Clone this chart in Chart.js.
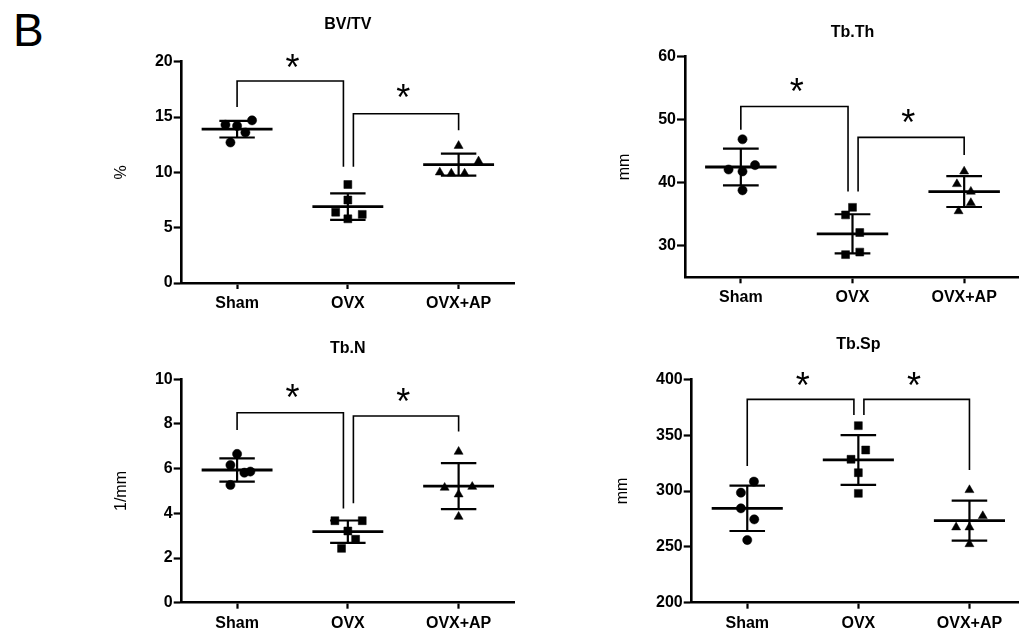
<!DOCTYPE html>
<html><head><meta charset="utf-8">
<script src="https://cdn.jsdelivr.net/npm/chart.js@4/dist/chart.umd.min.js"></script>
<style>
html,body{margin:0;padding:0;background:#fff;overflow:hidden;width:1019px;height:632px;position:relative;}
canvas{position:absolute;left:0;top:0;}
#B{position:absolute;left:13px;top:4px;font:46px 'Liberation Sans',Arial,sans-serif;color:#000;line-height:53px;}
</style></head><body>
<div id="B">B</div>
<canvas id="c1" width="1100" height="700"></canvas>
<canvas id="c2" width="1100" height="700"></canvas>
<canvas id="c3" width="1100" height="700"></canvas>
<canvas id="c4" width="1100" height="700"></canvas>
<script>
const groups = ['Sham', 'OVX', 'OVX+AP'];

// BV/TV (%)
const bvtvSham = [14.3, 14.2, 14.7, 13.6, 12.7];
const bvtvOvx = [8.9, 7.5, 6.4, 5.8, 6.2];
const bvtvOvxAp = [12.4, 11.0, 10.0, 9.9, 9.9];
const bvtvShamX = [-0.105, 0, 0.135, 0.075, -0.06];
const bvtvOvxX = [0, 0, -0.11, 0, 0.13];
const bvtvOvxApX = [0, 0.18, -0.17, -0.066, 0.054];
const bvtvMean = [13.9, 6.9, 10.7];
const bvtvSd = [0.75, 1.2, 1.0];
const bvtvTicks = [0, 5, 10, 15, 20];
const bvtvBrackets = [[0, 1, 18.25, 15.9, 10.5], [1, 2, 15.3, 10.5, 13.8]];
const bvtvStars = [19.7, 17.0];

// Tb.Th (mm)
const tbthSham = [46.9, 42.1, 41.8, 42.8, 38.8];
const tbthOvx = [36.1, 34.9, 32.1, 28.6, 29.0];
const tbthOvxAp = [41.8, 39.8, 38.6, 36.8, 35.5];
const tbthShamX = [0.015, -0.11, 0.015, 0.127, 0.015];
const tbthOvxX = [0, -0.062, 0.065, -0.062, 0.065];
const tbthOvxApX = [0, -0.065, 0.06, 0.06, -0.05];
const tbthMean = [42.5, 31.9, 38.6];
const tbthSd = [2.9, 3.1, 2.45];
const tbthTicks = [30, 40, 50, 60];
const tbthBrackets = [[0, 1, 52.1, 48.4, 38.6], [1, 2, 47.2, 38.6, 44.4]];
const tbthStars = [55.0, 50.1];

// Tb.N (1/mm)
const tbnSham = [6.66, 6.16, 5.82, 5.87, 5.27];
const tbnOvx = [3.67, 3.67, 3.21, 2.84, 2.43];
const tbnOvxAp = [6.76, 5.15, 5.19, 4.85, 3.85];
const tbnShamX = [0, -0.06, 0.066, 0.12, -0.06];
const tbnOvxX = [-0.117, 0.13, 0, 0.07, -0.057];
const tbnOvxApX = [0, -0.126, 0.123, 0, 0];
const tbnMean = [5.94, 3.18, 5.22];
const tbnSd = [0.52, 0.5, 1.03];
const tbnTicks = [0, 2, 4, 6, 8, 10];
const tbnBrackets = [[0, 1, 8.5, 7.73, 4.22], [1, 2, 8.36, 4.45, 7.66]];
const tbnStars = [9.34, 9.15];

// Tb.Sp (mm)
const tbspSham = [308.4, 298.5, 284.5, 274.6, 256.1];
const tbspOvx = [358.5, 336.7, 328.4, 316.4, 297.9];
const tbspOvxAp = [300.9, 277.6, 267.5, 267.5, 252.5];
const tbspShamX = [0.06, -0.057, -0.057, 0.063, 0];
const tbspOvxX = [0, 0.066, -0.066, 0, 0];
const tbspOvxApX = [0, 0.12, -0.12, 0, 0];
const tbspMean = [284.5, 327.8, 273.4];
const tbspSd = [20.3, 22.3, 17.9];
const tbspTicks = [200, 250, 300, 350, 400];
const tbspBrackets = [[0, 1, 382, 322.4, 368], [1, 2, 382, 368, 318.8]];
const tbspStars = [397, 397];

const FONT = "'Liberation Sans', Arial, sans-serif";
const pointStyles = ['circle', 'rect', 'triangle'];
const pointRadii = [4.6, 5.6, 5.2];

const panels = [
  {canvas: 'c1', title: 'BV/TV', yLabel: '%', left: 181.7, right: 514, top: 61.7, bottom: 283, titleY: 24.5, yLabelX: 122,
   values: [bvtvSham, bvtvOvx, bvtvOvxAp], xs: [bvtvShamX, bvtvOvxX, bvtvOvxApX], mean: bvtvMean, sd: bvtvSd,
   ticks: bvtvTicks, min: 0, max: 20, brackets: bvtvBrackets, stars: bvtvStars},
  {canvas: 'c2', title: 'Tb.Th', yLabel: 'mm', left: 685, right: 1020, top: 56.7, bottom: 277.3, titleY: 33, yLabelX: 625,
   values: [tbthSham, tbthOvx, tbthOvxAp], xs: [tbthShamX, tbthOvxX, tbthOvxApX], mean: tbthMean, sd: tbthSd,
   ticks: tbthTicks, min: 25, max: 60, brackets: tbthBrackets, stars: tbthStars},
  {canvas: 'c3', title: 'Tb.N', yLabel: '1/mm', left: 181.7, right: 514, top: 379.3, bottom: 602.7, titleY: 349, yLabelX: 122,
   values: [tbnSham, tbnOvx, tbnOvxAp], xs: [tbnShamX, tbnOvxX, tbnOvxApX], mean: tbnMean, sd: tbnSd,
   ticks: tbnTicks, min: 0, max: 10, brackets: tbnBrackets, stars: tbnStars},
  {canvas: 'c4', title: 'Tb.Sp', yLabel: 'mm', left: 691.7, right: 1025, top: 379.3, bottom: 602.7, titleY: 345, yLabelX: 622.5,
   values: [tbspSham, tbspOvx, tbspOvxAp], xs: [tbspShamX, tbspOvxX, tbspOvxApX], mean: tbspMean, sd: tbspSd,
   ticks: tbspTicks, min: 200, max: 400, brackets: tbspBrackets, stars: tbspStars}
];

function line(ctx, x1, y1, x2, y2, w) {
  ctx.lineWidth = w;
  ctx.beginPath(); ctx.moveTo(x1, y1); ctx.lineTo(x2, y2); ctx.stroke();
}

function makePanel(p) {
  const W = 1100, H = 700, yW = 50, xH = 40;
  const STAR = 36;
  const annot = {
    id: 'annot_' + p.canvas,
    afterDatasetsDraw(chart) {
      const ctx = chart.ctx, xs = chart.scales.x, ys = chart.scales.y, ca = chart.chartArea;
      const X = v => xs.getPixelForValue(v), Y = v => ys.getPixelForValue(v);
      ctx.save();
      ctx.strokeStyle = '#000'; ctx.fillStyle = '#000'; ctx.lineCap = 'butt';
      for (let g = 0; g < 3; g++) {
        const m = p.mean[g], s = p.sd[g];
        line(ctx, X(g - 0.32), Y(m), X(g + 0.32), Y(m), 2.8);
        line(ctx, X(g - 0.16), Y(m + s), X(g + 0.16), Y(m + s), 2.2);
        line(ctx, X(g - 0.16), Y(m - s), X(g + 0.16), Y(m - s), 2.2);
        line(ctx, X(g), Y(m - s), X(g), Y(m + s), 2.2);
      }
      ctx.lineJoin = 'miter';
      p.brackets.forEach((b, i) => {
        const a = b[0], c = b[1];
        const xa = X(a === 1 ? a + 0.05 : a), xc = X(c === 1 ? c - 0.04 : c);
        ctx.lineWidth = 1.6;
        ctx.beginPath();
        ctx.moveTo(xa, Y(b[3])); ctx.lineTo(xa, Y(b[2])); ctx.lineTo(xc, Y(b[2])); ctx.lineTo(xc, Y(b[4]));
        ctx.stroke();
        ctx.font = STAR + 'px ' + FONT;
        ctx.textAlign = 'center'; ctx.textBaseline = 'alphabetic';
        ctx.fillText('*', X((a + c) / 2), Y(p.stars[i]) + 0.43 * STAR);
      });
      ctx.font = 'bold 16px ' + FONT;
      ctx.textAlign = 'center'; ctx.textBaseline = 'middle';
      ctx.fillText(p.title, (ca.left + ca.right) / 2, p.titleY);
      ctx.save();
      ctx.translate(p.yLabelX, (ca.top + ca.bottom) / 2);
      ctx.rotate(-Math.PI / 2);
      ctx.font = '16px ' + FONT;
      ctx.fillText(p.yLabel, 0, 0);
      ctx.restore();
      ctx.restore();
    }
  };
  new Chart(document.getElementById(p.canvas), {
    type: 'scatter',
    data: {
      datasets: [0, 1, 2].map(g => ({
        label: groups[g],
        data: p.values[g].map((v, k) => ({x: g + p.xs[g][k], y: v})),
        pointStyle: pointStyles[g],
        pointRadius: pointRadii[g],
        pointHoverRadius: pointRadii[g],
        backgroundColor: '#000',
        borderColor: '#000',
        borderWidth: 0.5
      }))
    },
    options: {
      responsive: false, animation: false, events: [],
      layout: {padding: {left: p.left - yW, right: W - p.right, top: p.top, bottom: H - p.bottom - xH}},
      plugins: {legend: {display: false}, tooltip: {enabled: false}, title: {display: false}},
      scales: {
        x: {
          type: 'linear', min: -0.5, max: 2.5,
          afterBuildTicks: s => { s.ticks = [0, 1, 2].map(v => ({value: v})); },
          afterFit: s => { s.height = xH; },
          ticks: {callback: v => groups[v], font: {family: FONT, size: 16, weight: 'bold'}, color: '#000', padding: 5, maxRotation: 0, autoSkip: false},
          grid: {display: true, drawOnChartArea: false, drawTicks: true, tickLength: 6, tickWidth: 2.2, tickColor: '#000', color: '#000'},
          border: {display: true, color: '#000', width: 2.6}
        },
        y: {
          type: 'linear', min: p.min, max: p.max,
          afterBuildTicks: s => { s.ticks = p.ticks.map(v => ({value: v})); },
          afterFit: s => { s.width = yW; },
          ticks: {font: {family: FONT, size: 16, weight: 'bold'}, color: '#000', padding: 1},
          grid: {display: true, drawOnChartArea: false, drawTicks: true, tickLength: 8, tickWidth: 2.2, tickColor: '#000', color: '#000'},
          border: {display: true, color: '#000', width: 2.6}
        }
      }
    },
    plugins: [annot]
  });
}
panels.forEach(makePanel);
</script>
</body></html>
